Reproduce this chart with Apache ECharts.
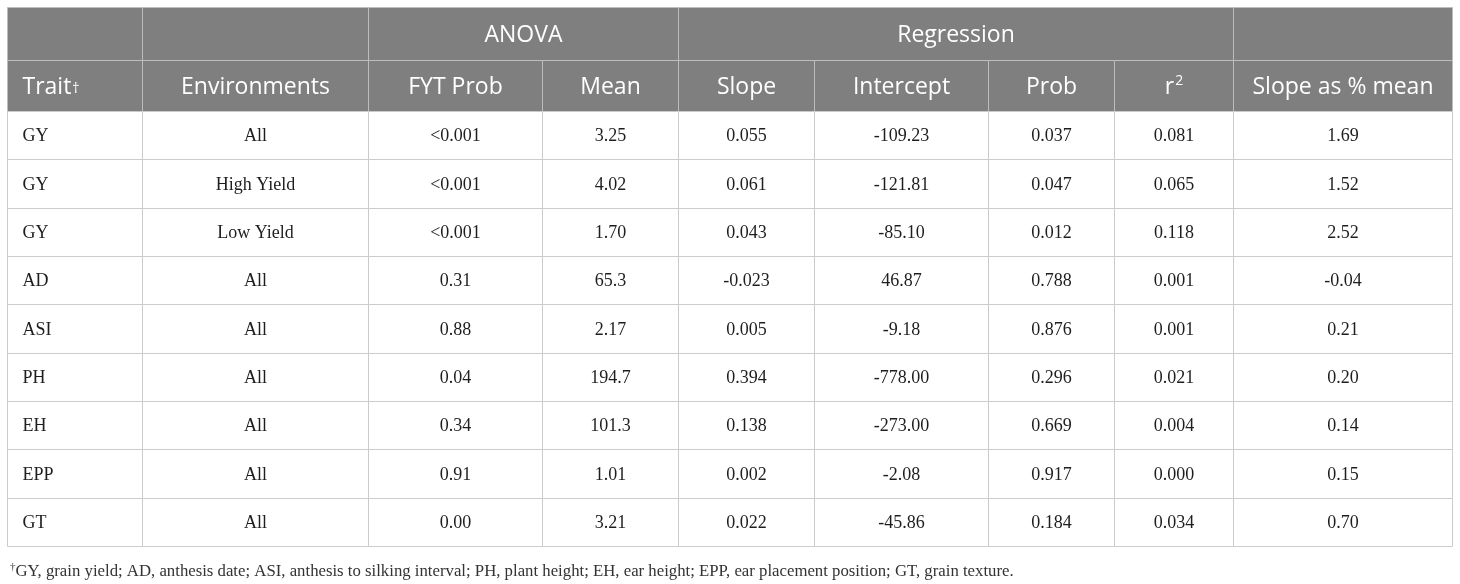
<!DOCTYPE html>
<html>
<head>
<meta charset="utf-8">
<script src="https://cdn.jsdelivr.net/npm/echarts@6/dist/echarts.min.js"></script>
<style>
  html, body { margin: 0; padding: 0; background: #fff; }
  #main { width: 1460px; height: 584px; }
</style>
</head>
<body>
<div id="main"></div>
<script>
// 表格数据
var traits = ['GY', 'GY', 'GY', 'AD', 'ASI', 'PH', 'EH', 'EPP', 'GT'];
var environments = ['All', 'High Yield', 'Low Yield', 'All', 'All', 'All', 'All', 'All', 'All'];
var fytProb = ['<0.001', '<0.001', '<0.001', '0.31', '0.88', '0.04', '0.34', '0.91', '0.00'];
var means = ['3.25', '4.02', '1.70', '65.3', '2.17', '194.7', '101.3', '1.01', '3.21'];
var slopes = ['0.055', '0.061', '0.043', '-0.023', '0.005', '0.394', '0.138', '0.002', '0.022'];
var intercepts = ['-109.23', '-121.81', '-85.10', '46.87', '-9.18', '-778.00', '-273.00', '-2.08', '-45.86'];
var probs = ['0.037', '0.047', '0.012', '0.788', '0.876', '0.296', '0.669', '0.917', '0.184'];
var r2 = ['0.081', '0.065', '0.118', '0.001', '0.001', '0.021', '0.004', '0.000', '0.034'];
var slopePct = ['1.69', '1.52', '2.52', '-0.04', '0.21', '0.20', '0.14', '0.15', '0.70'];

// 表头
var groupHeaders = [
    { text: '', from: 0, to: 0 },
    { text: '', from: 1, to: 1 },
    { text: 'ANOVA', from: 2, to: 3 },
    { text: 'Regression', from: 4, to: 7 },
    { text: '', from: 8, to: 8 }
];
var columnHeaders = ['Trait{d|†}', 'Environments', 'FYT Prob', 'Mean', 'Slope', 'Intercept', 'Prob', 'r{s|2}', 'Slope as % mean'];
var footnote = '{d|†}GY, grain yield; AD, anthesis date; ASI, anthesis to silking interval; PH, plant height; EH, ear height; EPP, ear placement position; GT, grain texture.';

// 布局 (表格内坐标)
var colEdges = [0, 135, 361, 535, 671, 807, 981, 1107, 1226, 1445];
var headRows = [0, 53, 104];
var rowHeight = 48.33;
var tableW = 1445, tableH = 539;

var columns = [traits, environments, fytProb, means, slopes, intercepts, probs, r2, slopePct];

var cells = [];
var seriesData = [];
function addCell(x0, x1, y0, y1, text, kind, align) {
    cells.push({ text: text, kind: kind, align: align });
    seriesData.push([x0, y0, x1, y1]);
}
groupHeaders.forEach(function (g) {
    addCell(colEdges[g.from], colEdges[g.to + 1], headRows[0], headRows[1], g.text, 'head', 'center');
});
columnHeaders.forEach(function (h, i) {
    addCell(colEdges[i], colEdges[i + 1], headRows[1], headRows[2], h, 'head', i === 0 ? 'left' : 'center');
});
traits.forEach(function (t, r) {
    var y0 = headRows[2] + r * rowHeight;
    columns.forEach(function (col, c) {
        addCell(colEdges[c], colEdges[c + 1], y0, y0 + rowHeight, col[r], 'body', c === 0 ? 'left' : 'center');
    });
});

var chart = echarts.init(document.getElementById('main'));
var option = {
    backgroundColor: '#ffffff',
    animation: false,
    title: {
        text: footnote,
        left: 5,
        top: 557,
        textStyle: {
            fontFamily: 'Liberation Serif',
            fontSize: 16.75,
            fontWeight: 'normal',
            color: '#333333',
            rich: {
                d: { fontFamily: 'Liberation Serif', fontSize: 11, color: '#333333', padding: [0, 0, 9, 0] }
            }
        }
    },
    grid: { left: 7, top: 7, width: tableW, height: tableH },
    xAxis: { type: 'value', min: 0, max: tableW, show: false },
    yAxis: { type: 'value', min: 0, max: tableH, inverse: true, show: false },
    series: [{
        type: 'custom',
        silent: true,
        clip: false,
        data: seriesData,
        renderItem: function (params, api) {
            var c = cells[params.dataIndex];
            var p0 = api.coord([api.value(0), api.value(1)]);
            var p1 = api.coord([api.value(2), api.value(3)]);
            var x0 = Math.round(p0[0]) + 0.5, y0 = Math.round(p0[1]) + 0.5;
            var x1 = Math.round(p1[0]) + 0.5, y1 = Math.round(p1[1]) + 0.5;
            var head = c.kind === 'head';
            var tx = c.align === 'left' ? x0 + 15 : (x0 + x1) / 2;
            return {
                type: 'group',
                children: [{
                    type: 'rect',
                    shape: { x: x0, y: y0, width: x1 - x0, height: y1 - y0 },
                    style: { fill: head ? '#7f7f7f' : '#ffffff', stroke: head ? '#bdbdbd' : '#cbcbcb', lineWidth: 1 }
                }, {
                    type: 'text',
                    z2: 10,
                    style: {
                        text: c.text,
                        x: tx,
                        y: (y0 + y1) / 2 + 1,
                        align: c.align,
                        verticalAlign: 'middle',
                        fontFamily: head ? 'Open Sans' : 'Liberation Serif',
                        fontSize: head ? 23 : 18,
                        fill: head ? '#ffffff' : '#1e1e1e',
                        rich: {
                            d: { fontFamily: 'Open Sans', fontSize: 14, fill: '#ffffff', padding: [4, 0, 0, 1] },
                            s: { fontFamily: 'Open Sans', fontSize: 14, fill: '#ffffff', padding: [0, 0, 12, 1] }
                        }
                    }
                }]
            };
        }
    }]
};
chart.setOption(option);
</script>
</body>
</html>
